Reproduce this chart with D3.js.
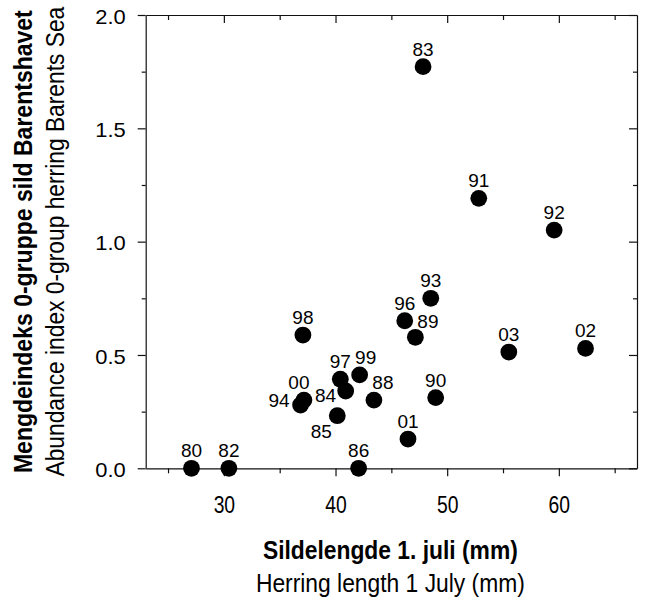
<!DOCTYPE html>
<html>
<head>
<meta charset="utf-8">
<script src="https://cdn.jsdelivr.net/npm/d3@7"></script>
<style>
  html, body { margin: 0; padding: 0; background: #fff; }
  svg { display: block; }
  text { font-family: "Liberation Sans", Arial, sans-serif; fill: #000; }
</style>
</head>
<body>
<svg id="chart" width="645" height="601"></svg>
<script>
// ---- data ----
const years     = ["80","82","83","84","85","86","88","89","90","91","92","93","94","96","97","98","99","00","01","02","03"];
const lengthMM  = [27.1, 30.45, 47.84, 40.91, 40.16, 42.07, 43.44, 47.15, 48.97, 52.83, 59.58, 48.53, 36.87, 46.20, 40.43, 37.08, 42.16, 37.17, 46.49, 62.39, 55.52];
const abundance = [0, 0, 1.772, 0.341, 0.232, 0, 0.301, 0.578, 0.312, 1.191, 1.051, 0.750, 0.279, 0.651, 0.393, 0.588, 0.412, 0.301, 0.129, 0.529, 0.513];
const xMajorTicks = [30, 40, 50, 60];
const xMinorTicks = [25, 35, 45, 55, 65];
const yMajorTicks = [0, 0.5, 1.0, 1.5, 2.0];
const yMinorTicks = [0.25, 0.75, 1.25, 1.75];
const xTitleBold = "Sildelengde 1. juli (mm)";
const xTitle     = "Herring length 1 July (mm)";
const yTitleBold = "Mengdeindeks 0-gruppe sild Barentshavet";
const yTitle     = "Abundance index 0-group herring Barents Sea";

// ---- layout ----
const L = 145.7, R = 637, T = 15, B = 468.3;
const svg = d3.select("#chart");
const x = d3.scaleLinear().domain([23, 67]).range([L, R]);
const y = d3.scaleLinear().domain([0, 2]).range([B, T]);

// label placement (layout only)
const labelPlace = {
  "89": {anchor: "start", dx: 2,   dy: -9},
  "00": {anchor: "middle", dx: -5, dy: -11.5},
  "94": {anchor: "end",   dx: -11, dy: 1.7},
  "84": {anchor: "end",   dx: -9.5, dy: 10.7},
  "85": {anchor: "end",   dx: -5.5, dy: 22.6},
  "99": {anchor: "middle", dx: 6,  dy: -10.7},
  "88": {anchor: "middle", dx: 9,  dy: -11.5}
};

// horizontally condense a text to a target width, placed at (tx, ty) with optional rotation
function fitText(node, tx, ty, target, rot) {
  const t = d3.select(node).attr("x", 0).attr("y", 0).attr("dy", null);
  const len = node.getComputedTextLength();
  const s = len > 0 ? target / len : 1;
  t.attr("transform", `translate(${tx},${ty})${rot ? ` rotate(${rot})` : ""} scale(${s},1)`);
}

function styleAxis(g) {
  g.selectAll("path.domain").attr("stroke", "#111").attr("stroke-width", 1.2);
  g.selectAll(".tick line").attr("stroke", "#111").attr("stroke-width", 1.2);
}

// bottom axis: major + minor (outward)
const gxB = svg.append("g").attr("transform", `translate(0,${B})`)
  .call(d3.axisBottom(x).tickValues(xMajorTicks).tickSize(8).tickSizeOuter(0).tickFormat(d3.format("d")));
gxB.selectAll(".tick text")
  .attr("font-size", 23.3).attr("font-family", "Liberation Sans, Arial, sans-serif")
  .each(function() { fitText(this, 0, 44.3, 21.5); });
styleAxis(gxB);
const gxBm = svg.append("g").attr("transform", `translate(0,${B})`)
  .call(d3.axisBottom(x).tickValues(xMinorTicks).tickSize(5).tickSizeOuter(0).tickFormat(""));
gxBm.select("path.domain").remove();
styleAxis(gxBm);

// top axis: inward
const gxT = svg.append("g").attr("transform", `translate(0,${T})`)
  .call(d3.axisTop(x).tickValues(xMajorTicks).tickSize(-8).tickSizeOuter(0).tickFormat(""));
styleAxis(gxT);
const gxTm = svg.append("g").attr("transform", `translate(0,${T})`)
  .call(d3.axisTop(x).tickValues(xMinorTicks).tickSize(-5).tickSizeOuter(0).tickFormat(""));
gxTm.select("path.domain").remove();
styleAxis(gxTm);

// left axis: outward
const gyL = svg.append("g").attr("transform", `translate(${L},0)`)
  .call(d3.axisLeft(y).tickValues(yMajorTicks).tickSize(8).tickSizeOuter(0).tickFormat(d3.format(".1f")));
gyL.selectAll(".tick text")
  .attr("font-size", 21).attr("font-family", "Liberation Sans, Arial, sans-serif")
  .each(function() { fitText(this, -20, 8.3, 30.5); });
styleAxis(gyL);
const gyLm = svg.append("g").attr("transform", `translate(${L},0)`)
  .call(d3.axisLeft(y).tickValues(yMinorTicks).tickSize(4).tickSizeOuter(0).tickFormat(""));
gyLm.select("path.domain").remove();
styleAxis(gyLm);

// right axis: inward
const gyR = svg.append("g").attr("transform", `translate(${R},0)`)
  .call(d3.axisRight(y).tickValues(yMajorTicks).tickSize(-8).tickSizeOuter(0).tickFormat(""));
styleAxis(gyR);
const gyRm = svg.append("g").attr("transform", `translate(${R},0)`)
  .call(d3.axisRight(y).tickValues(yMinorTicks).tickSize(-4).tickSizeOuter(0).tickFormat(""));
gyRm.select("path.domain").remove();
styleAxis(gyRm);

// points
const pts = years.map((yr, i) => ({yr, x: lengthMM[i], y: abundance[i]}));
svg.append("g").selectAll("circle").data(pts).join("circle")
  .attr("cx", d => x(d.x)).attr("cy", d => y(d.y)).attr("r", 8.4)
  .attr("fill", "#000");

// point labels
svg.append("g").selectAll("text").data(pts).join("text")
  .attr("x", d => x(d.x) + (labelPlace[d.yr] ? labelPlace[d.yr].dx : 0))
  .attr("y", d => y(d.y) + (labelPlace[d.yr] ? labelPlace[d.yr].dy : -11))
  .attr("text-anchor", d => labelPlace[d.yr] ? labelPlace[d.yr].anchor : "middle")
  .attr("font-size", 19)
  .text(d => d.yr);

// axis titles
const cx = (L + R) / 2, cy = (T + B) / 2;
svg.append("text").attr("text-anchor", "middle")
  .attr("font-size", 26).attr("font-weight", "bold").text(xTitleBold)
  .each(function() { fitText(this, cx - 1, 559.3, 255); });
svg.append("text").attr("text-anchor", "middle")
  .attr("font-size", 26).text(xTitle)
  .each(function() { fitText(this, cx - 1, 591.5, 269); });
svg.append("text").attr("text-anchor", "middle")
  .attr("font-size", 26).attr("font-weight", "bold").text(yTitleBold)
  .each(function() { fitText(this, 32, cy, 463, -90); });
svg.append("text").attr("text-anchor", "middle")
  .attr("font-size", 26).text(yTitle)
  .each(function() { fitText(this, 64, cy, 470, -90); });
</script>
</body>
</html>
